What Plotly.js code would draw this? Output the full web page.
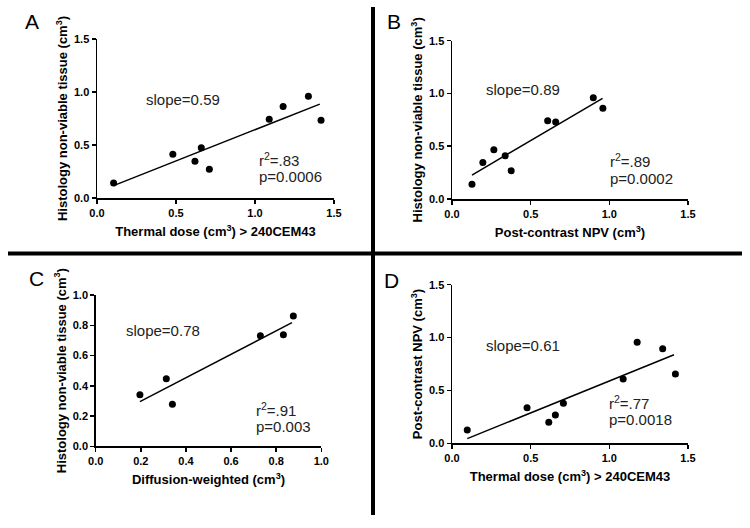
<!DOCTYPE html>
<html>
<head>
<meta charset="utf-8">
<script src="https://cdn.plot.ly/plotly-3.0.1.min.js"></script>
<style>html,body{margin:0;padding:0;background:#fff;}#chart{width:750px;height:528px;}</style>
</head>
<body>
<div id="chart"></div>
<script>
// Panel A: thermal dose vs histology
const aX = [0.105, 0.48, 0.62, 0.66, 0.711, 1.09, 1.178, 1.338, 1.418];
const aY = [0.142, 0.413, 0.347, 0.473, 0.271, 0.744, 0.863, 0.961, 0.734];
const aFitX = [0.105, 1.41];
const aFitY = [0.117, 0.886];
// Panel B: post-contrast NPV vs histology
const bX = [0.127, 0.196, 0.266, 0.338, 0.376, 0.608, 0.659, 0.898, 0.959];
const bY = [0.139, 0.347, 0.467, 0.41, 0.268, 0.742, 0.729, 0.96, 0.859];
const bFitX = [0.127, 0.957];
const bFitY = [0.227, 0.954];
// Panel C: diffusion-weighted vs histology
const cX = [0.196, 0.313, 0.34, 0.73, 0.832, 0.876];
const cY = [0.341, 0.447, 0.278, 0.731, 0.738, 0.861];
const cFitX = [0.196, 0.87];
const cFitY = [0.295, 0.817];
// Panel D: thermal dose vs post-contrast NPV
const dX = [0.097, 0.477, 0.615, 0.657, 0.708, 1.088, 1.177, 1.339, 1.42];
const dY = [0.126, 0.337, 0.199, 0.268, 0.378, 0.608, 0.955, 0.895, 0.655];
const dFitX = [0.097, 1.411];
const dFitY = [0.044, 0.838];

const panelLetters = ['A', 'B', 'C', 'D'];
const slopeTexts = ['slope=0.59', 'slope=0.89', 'slope=0.78', 'slope=0.61'];
const r2Texts = ['r<sup>2</sup>=.83', 'r<sup>2</sup>=.89', 'r<sup>2</sup>=.91', 'r<sup>2</sup>=.77'];
const pTexts = ['p=0.0006', 'p=0.0002', 'p=0.003', 'p=0.0018'];
const xTitles = ['Thermal dose (cm<sup>3</sup>) > 240CEM43', 'Post-contrast NPV (cm<sup>3</sup>)', 'Diffusion-weighted (cm<sup>3</sup>)', 'Thermal dose (cm<sup>3</sup>) > 240CEM43'];
const yTitles = ['Histology non-viable tissue (cm<sup>3</sup>)', 'Histology non-viable tissue (cm<sup>3</sup>)', 'Histology non-viable tissue (cm<sup>3</sup>)', 'Post-contrast NPV (cm<sup>3</sup>)'];

const FONT = 'Liberation Sans, Arial, sans-serif';
const W = 750, H = 528;
const px = v => v / W;
const py = v => 1 - v / H;

const sets = [[aX, aY, aFitX, aFitY], [bX, bY, bFitX, bFitY], [cX, cY, cFitX, cFitY], [dX, dY, dFitX, dFitY]];
const traces = [];
sets.forEach((s, i) => {
  const xa = i === 0 ? 'x' : 'x' + (i + 1);
  const ya = i === 0 ? 'y' : 'y' + (i + 1);
  traces.push({x: s[0], y: s[1], xaxis: xa, yaxis: ya, type: 'scatter', mode: 'markers',
    marker: {color: '#000', size: 7}, showlegend: false, hoverinfo: 'skip'});
  traces.push({x: s[2], y: s[3], xaxis: xa, yaxis: ya, type: 'scatter', mode: 'lines',
    line: {color: '#000', width: 1.5}, showlegend: false, hoverinfo: 'skip'});
});

// pixel domains [x0,x1], [ytop, ybottom]
const dom = [
  {x: [97, 334], y: [39, 198], max: 1.5, dt: 0.5},
  {x: [452, 688], y: [40.7, 199], max: 1.5, dt: 0.5},
  {x: [95.7, 321.3], y: [295, 446.3], max: 1.0, dt: 0.2},
  {x: [452, 688], y: [284.7, 443.3], max: 1.5, dt: 0.5}
];

const layout = {
  width: W, height: H,
  margin: {l: 0, r: 0, t: 0, b: 0},
  paper_bgcolor: '#fff', plot_bgcolor: 'rgba(0,0,0,0)',
  font: {family: FONT, color: '#000'},
  showlegend: false,
  annotations: [],
  shapes: [
    {type: 'line', xref: 'paper', yref: 'paper', x0: px(373), x1: px(373), y0: py(7), y1: py(515), line: {color: '#000', width: 4}},
    {type: 'line', xref: 'paper', yref: 'paper', x0: px(8), x1: px(742), y0: py(253.5), y1: py(253.5), line: {color: '#000', width: 4}}
  ]
};

const slopePos = [[0.545, 0.933], [0.45, 1.033], [0.30, 0.764], [0.454, 0.923]];
const statPos = [[1.01, 0.359, 0.2], [0.993, 0.363, 0.196], [0.70, 0.242, 0.132], [0.987, 0.39, 0.227]];
const letterPos = [[32, 22], [394, 21], [36, 278], [392, 280]];

dom.forEach((d, i) => {
  const n = i === 0 ? '' : String(i + 1);
  layout['xaxis' + n] = {
    domain: [px(d.x[0]), px(d.x[1])], anchor: 'y' + n, range: [0, d.max], dtick: d.dt, tick0: 0,
    tickformat: '.1f', showgrid: false, zeroline: false, showline: true, linecolor: '#000', linewidth: 1.5,
    ticks: 'outside', ticklen: 4, tickwidth: 1.5, tickcolor: '#000',
    tickfont: {family: FONT, size: 11, weight: 'bold', color: '#000'},
    title: {text: xTitles[i], font: {family: FONT, size: 13, weight: 'bold', color: '#000'}, standoff: 9},
    fixedrange: true
  };
  layout['yaxis' + n] = {
    domain: [py(d.y[1]), py(d.y[0])], anchor: 'x' + n, range: [0, d.max], dtick: d.dt, tick0: 0,
    tickformat: '.1f', showgrid: false, zeroline: false, showline: true, linecolor: '#000', linewidth: 1.5,
    ticks: 'outside', ticklen: 4, tickwidth: 1.5, tickcolor: '#000',
    tickfont: {family: FONT, size: 11, weight: 'bold', color: '#000'},
    title: {text: yTitles[i], font: {family: FONT, size: 13, weight: 'bold', color: '#000'}, standoff: 3},
    fixedrange: true
  };
  const xr = 'x' + n, yr = 'y' + n;
  layout.annotations.push({xref: xr, yref: yr, x: slopePos[i][0], y: slopePos[i][1], text: slopeTexts[i],
    showarrow: false, xanchor: 'center', yanchor: 'middle', font: {family: FONT, size: 15, color: '#222'}});
  layout.annotations.push({xref: xr, yref: yr, x: statPos[i][0], y: statPos[i][1], text: r2Texts[i],
    showarrow: false, xanchor: 'left', yanchor: 'middle', font: {family: FONT, size: 15, color: '#222'}});
  layout.annotations.push({xref: xr, yref: yr, x: statPos[i][0], y: statPos[i][2], text: pTexts[i],
    showarrow: false, xanchor: 'left', yanchor: 'middle', font: {family: FONT, size: 15, color: '#222'}});
  layout.annotations.push({xref: 'paper', yref: 'paper', x: px(letterPos[i][0]), y: py(letterPos[i][1]), text: panelLetters[i],
    showarrow: false, xanchor: 'center', yanchor: 'middle', font: {family: FONT, size: 21, color: '#000'}});
});

Plotly.newPlot('chart', traces, layout, {displayModeBar: false, staticPlot: true});
</script>
</body>
</html>
